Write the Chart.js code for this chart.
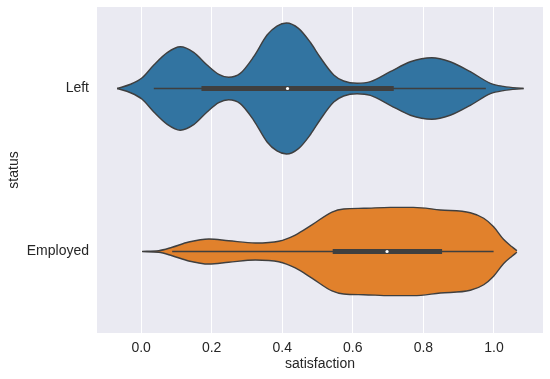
<!DOCTYPE html>
<html>
<head>
<meta charset="utf-8">
<script src="https://cdn.jsdelivr.net/npm/chart.js@4.4.1/dist/chart.umd.min.js"></script>
<style>
html,body{margin:0;padding:0;background:#fff;}
#wrap{width:550px;height:379px;position:relative;}
</style>
</head>
<body>
<div id="wrap"><canvas id="c" width="550" height="379"></canvas></div>
<script>
// Categories (top to bottom)
const categories = ["Left", "Employed"];
const xTicks = [0.0, 0.2, 0.4, 0.6, 0.8, 1.0];

// Violin "Left": satisfaction grid and half-width of the density (category units)
const leftSat = [-0.068, -0.030, 0.003, 0.036, 0.074, 0.111, 0.149, 0.187, 0.220, 0.248, 0.281, 0.319, 0.357, 0.385, 0.412, 0.446, 0.480, 0.508, 0.546, 0.574, 0.612, 0.650, 0.706, 0.763, 0.824, 0.876, 0.933, 0.990, 1.027, 1.084];
const leftDens = [0.000, 0.026, 0.066, 0.144, 0.220, 0.256, 0.222, 0.144, 0.087, 0.069, 0.093, 0.195, 0.328, 0.383, 0.402, 0.369, 0.282, 0.190, 0.083, 0.046, 0.032, 0.042, 0.103, 0.164, 0.189, 0.164, 0.103, 0.032, 0.013, 0.000];

// Violin "Employed"
const empSat = [0.003, 0.050, 0.088, 0.135, 0.192, 0.248, 0.324, 0.390, 0.437, 0.484, 0.541, 0.574, 0.631, 0.706, 0.772, 0.848, 0.933, 0.971, 0.999, 1.027, 1.051, 1.065];
const empDens = [0.001, 0.005, 0.026, 0.058, 0.077, 0.066, 0.052, 0.063, 0.101, 0.163, 0.242, 0.261, 0.265, 0.271, 0.271, 0.255, 0.238, 0.204, 0.152, 0.075, 0.029, 0.005];

// Inner box statistics: [whiskerLow, q1, median, q3, whiskerHigh]
const leftBox = [0.036, 0.171, 0.415, 0.716, 0.977];
const empBox = [0.088, 0.543, 0.697, 0.853, 0.999];

const colors = ["#3274A1", "#E1812C"];
const edge = "#3f3f3f";

function violinSets(sat, dens, pos, color) {
  const top = sat.map((x, i) => ({x: x, y: pos - dens[i]}));
  const bot = sat.map((x, i) => ({x: x, y: pos + dens[i]}));
  const common = {showLine: true, pointRadius: 0, borderColor: edge, borderWidth: 1.4, cubicInterpolationMode: 'monotone', order: 5};
  return [
    Object.assign({data: top, fill: false, backgroundColor: color}, common),
    Object.assign({data: bot, fill: '-1', backgroundColor: color}, common)
  ];
}
function boxSets(b, pos) {
  return [
    {data: [{x: b[0], y: pos}, {x: b[4], y: pos}], showLine: true, pointRadius: 0, borderColor: edge, borderWidth: 1.6, fill: false, order: 3},
    {data: [{x: b[1], y: pos}, {x: b[3], y: pos}], showLine: true, pointRadius: 0, borderColor: edge, borderWidth: 4.8, fill: false, order: 2},
    {data: [{x: b[2], y: pos}], showLine: false, pointRadius: 1.6, pointBackgroundColor: "#ffffff", pointBorderWidth: 0, borderColor: "#ffffff", order: 1}
  ];
}

const datasets = [].concat(
  violinSets(leftSat, leftDens, 0, colors[0]),
  boxSets(leftBox, 0),
  violinSets(empSat, empDens, 1, colors[1]),
  boxSets(empBox, 1)
);

const bgPlugin = {
  id: 'bg',
  beforeDraw(chart) {
    const {ctx, chartArea: a} = chart;
    ctx.save();
    ctx.fillStyle = "#EAEAF2";
    ctx.fillRect(a.left, a.top, a.right - a.left, a.bottom - a.top);
    ctx.restore();
  }
};

const font = {family: "'Liberation Sans', Arial, sans-serif", size: 14};

new Chart(document.getElementById('c'), {
  type: 'scatter',
  data: {datasets: datasets},
  plugins: [bgPlugin],
  options: {
    responsive: false,
    animation: false,
    events: [],
    layout: {padding: {top: 7, right: 7, left: 0, bottom: 0}},
    plugins: {legend: {display: false}, tooltip: {enabled: false}},
    scales: {
      x: {
        type: 'linear', min: -0.125, max: 1.139,
        afterBuildTicks: s => { s.ticks = xTicks.map(v => ({value: v})); },
        afterFit: s => { s.height = 46; s.paddingLeft = 0; s.paddingRight = 0; },
        grid: {color: "#ffffff", lineWidth: 1, drawTicks: false},
        border: {display: false},
        ticks: {font: font, color: "#262626", padding: 7, callback: v => Number(v).toFixed(1)},
        title: {display: true, text: "satisfaction", font: font, color: "#262626", padding: {top: 0, bottom: 6}}
      },
      y: {
        type: 'linear', min: -0.5, max: 1.5, reverse: true,
        afterBuildTicks: s => { s.ticks = categories.map((c, i) => ({value: i})); },
        afterFit: s => { s.width = 97; s.paddingTop = 0; s.paddingBottom = 0; },
        grid: {display: false, drawTicks: false},
        border: {display: false},
        ticks: {font: font, color: "#262626", padding: 8, callback: v => categories[v]},
        title: {display: true, text: "status", font: font, color: "#262626", padding: {top: 6, bottom: 0}}
      }
    }
  }
});
</script>
</body>
</html>
